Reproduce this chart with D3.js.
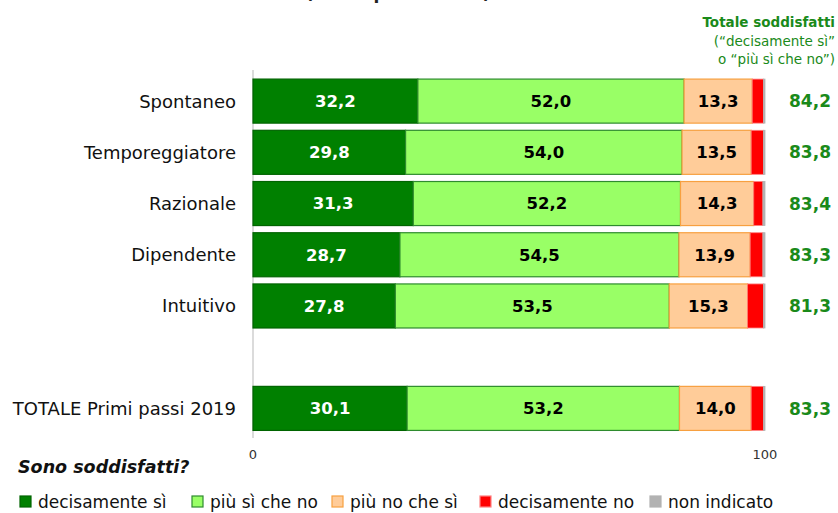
<!DOCTYPE html>
<html lang="it">
<head>
<meta charset="UTF-8">
<title>Sono soddisfatti?</title>
<script src="https://d3js.org/d3.v7.min.js"></script>
<style>
  body { margin: 0; background: #fff; }
  svg { display: block; font-family: "DejaVu Sans", sans-serif; }
</style>
</head>
<body>
<svg id="chart" width="838" height="513"></svg>
<script>
// dati
const categories = ["Spontaneo", "Temporeggiatore", "Razionale", "Dipendente", "Intuitivo", "", "TOTALE Primi passi 2019"];
const seriesNames = ["decisamente sì", "più sì che no", "più no che sì", "decisamente no", "non indicato"];
const decisamenteSi = [32.2, 29.8, 31.3, 28.7, 27.8, null, 30.1];
const piuSiCheNo    = [52.0, 54.0, 52.2, 54.5, 53.5, null, 53.2];
const piuNoCheSi    = [13.3, 13.5, 14.3, 13.9, 15.3, null, 14.0];
const decisamenteNo = [2.2, 2.4, 1.8, 2.5, 3.1, null, 2.4];
const nonIndicato   = [0.3, 0.3, 0.4, 0.4, 0.3, null, 0.3];
const totaleSoddisfatti = [84.2, 83.8, 83.4, 83.3, 81.3, null, 83.3];
const tickValues = [0, 100];

const colors  = ["#008000", "#99ff66", "#ffcc99", "#ff0000", "#b2b2b2"];
const strokes = ["#006400", "#2e8b2e", "#f7a040", "#ff8080", "#b2b2b2"];
const labelColors = ["#fff", "#000", "#000", null, null];

const svg = d3.select("#chart");

const x = d3.scaleLinear().domain([0, 100]).range([253, 765]);
const y = d3.scaleBand().domain(d3.range(categories.length)).range([75.5, 434]).paddingInner(0.14).paddingOuter(0.07);

// titolo tagliato in alto (come nell'originale)
svg.append("text")
  .attr("x", 398).attr("y", -1)
  .attr("text-anchor", "middle")
  .attr("font-size", 17).attr("font-weight", "bold").attr("fill", "#222")
  .text("(valori percentuali)");

// asse verticale
svg.append("line")
  .attr("x1", x(0)).attr("x2", x(0))
  .attr("y1", 70).attr("y2", 438)
  .attr("stroke", "#c8c8c8").attr("stroke-width", 1.3);

const table = categories.map((c, i) => ({
  cat: c, i,
  vals: [decisamenteSi[i], piuSiCheNo[i], piuNoCheSi[i], decisamenteNo[i], nonIndicato[i]]
})).filter(d => d.vals[0] != null);

const rows = svg.selectAll("g.row").data(table).enter().append("g").attr("class", "row");

rows.each(function(d) {
  const g = d3.select(this);
  let acc = 0;
  d.vals.forEach((v, k) => {
    const x0 = x(acc), x1 = x(acc + v);
    g.append("rect")
      .attr("x", x0).attr("y", y(d.i))
      .attr("width", x1 - x0).attr("height", y.bandwidth())
      .attr("fill", colors[k])
      .attr("stroke", strokes[k]).attr("stroke-width", k < 3 ? 1.2 : 0.8);
    if (labelColors[k]) {
      g.append("text")
        .attr("x", (x0 + x1) / 2).attr("y", y(d.i) + y.bandwidth() / 2)
        .attr("dy", "0.36em").attr("text-anchor", "middle")
        .attr("font-size", 16.5).attr("font-weight", "bold")
        .attr("fill", labelColors[k])
        .text(d3.format(".1f")(v).replace(".", ","));
    }
    acc += v;
  });
  g.append("text")
    .attr("x", 236).attr("y", y(d.i) + y.bandwidth() / 2)
    .attr("dy", "0.36em").attr("text-anchor", "end")
    .attr("font-size", 18).attr("fill", "#111")
    .text(d.cat);
  g.append("text")
    .attr("x", 810).attr("y", y(d.i) + y.bandwidth() / 2)
    .attr("dy", "0.36em").attr("text-anchor", "middle")
    .attr("font-size", 17).attr("font-weight", "bold").attr("fill", "#1a8a1a")
    .text(d3.format(".1f")(totaleSoddisfatti[d.i]).replace(".", ","));
});

// tick asse x
svg.selectAll("text.tick").data(tickValues).enter().append("text")
  .attr("class", "tick")
  .attr("x", d => x(d)).attr("y", 459)
  .attr("text-anchor", "middle")
  .attr("font-size", 13).attr("fill", "#333")
  .text(d => d);

// intestazione totali
const head = ["Totale soddisfatti", "(“decisamente sì”", "o “più sì che no”)"];
svg.selectAll("text.head").data(head).enter().append("text")
  .attr("class", "head")
  .attr("x", 835).attr("y", (d, i) => 27 + i * 18.5)
  .attr("text-anchor", "end")
  .attr("font-size", 13.5).attr("font-weight", (d, i) => i === 0 ? "bold" : "normal")
  .attr("fill", "#1a8a1a")
  .text(d => d);

// titolo legenda
svg.append("text")
  .attr("x", 18).attr("y", 473)
  .attr("font-size", 17.5).attr("font-weight", "bold").attr("font-style", "italic")
  .attr("fill", "#111")
  .text("Sono soddisfatti?");

// legenda
const legendX = [20, 192, 332, 480, 650];
const leg = svg.selectAll("g.leg").data(seriesNames).enter().append("g")
  .attr("class", "leg")
  .attr("transform", (d, i) => `translate(${legendX[i]},508)`);
leg.append("rect")
  .attr("x", 0).attr("y", -12).attr("width", 11).attr("height", 11)
  .attr("fill", (d, i) => colors[i])
  .attr("stroke", (d, i) => strokes[i]).attr("stroke-width", 1.2);
leg.append("text")
  .attr("x", 18).attr("y", 0)
  .attr("font-size", 17).attr("fill", "#111")
  .text(d => d);
</script>
</body>
</html>
